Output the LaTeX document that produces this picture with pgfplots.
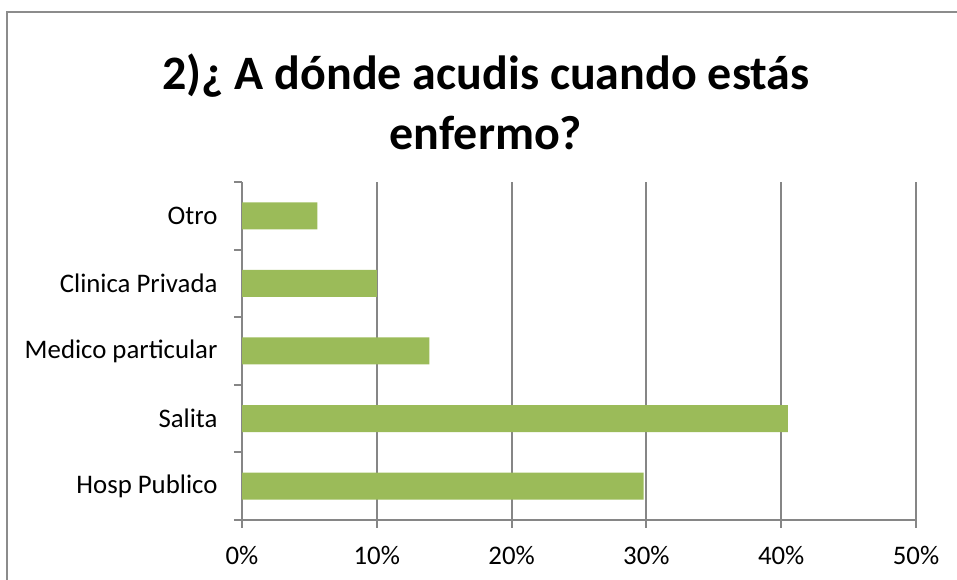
\documentclass[border=0pt]{standalone}
\usepackage{pgfplots}
\pgfplotsset{compat=1.18}
\usepackage{fontspec}
\setmainfont{Carlito}
\definecolor{bargreen}{HTML}{9BBB59}
\definecolor{gridgray}{HTML}{868686}
\definecolor{framegray}{HTML}{8C8C8C}
\begin{document}
\begin{tikzpicture}[x=1pt,y=1pt]
\useasboundingbox (0,0) rectangle (957,580);
\draw[framegray, line width=2pt] (7,-20) -- (7,568) -- (980,568);
\node[align=center, font=\fontsize{48}{60}\selectfont\bfseries] at (486,534-24-32) {2)¿ A dónde acudis cuando estás\\enfermo?};
\begin{axis}[
  at={(242pt,60pt)}, anchor=south west,
  scale only axis, width=674pt, height=338pt,
  xbar, bar width=27pt,
  xmin=0, xmax=50, ymin=-0.5, ymax=4.5,
  axis x line*=bottom, axis y line*=left,
  axis line style={gridgray, line width=2pt},
  xtick={0,10,20,30,40,50},
  xticklabels={0\%,10\%,20\%,30\%,40\%,50\%},
  ytick={-0.5,0.5,1.5,2.5,3.5,4.5},
  yticklabels={},
  extra y ticks={0,1,2,3,4},
  extra y tick labels={Hosp Publico,Salita,Medico particular,Clinica Privada,Otro},
  extra y tick style={major tick length=0pt, tick style={draw=none}},
  tick align=outside,
  major tick length=8pt,
  tick style={gridgray, line width=2pt},
  xmajorgrids, major grid style={gridgray, line width=2pt},
  ticklabel style={font=\fontsize{26.8}{30}\selectfont, text=black},
  xticklabel style={yshift=-15pt},
  yticklabel style={xshift=-21pt},
  clip=false,
]
\addplot[fill=bargreen, draw=none] coordinates {(29.8,0) (40.5,1) (13.9,2) (10.0,3) (5.6,4)};
\end{axis}
\end{tikzpicture}
\end{document}
